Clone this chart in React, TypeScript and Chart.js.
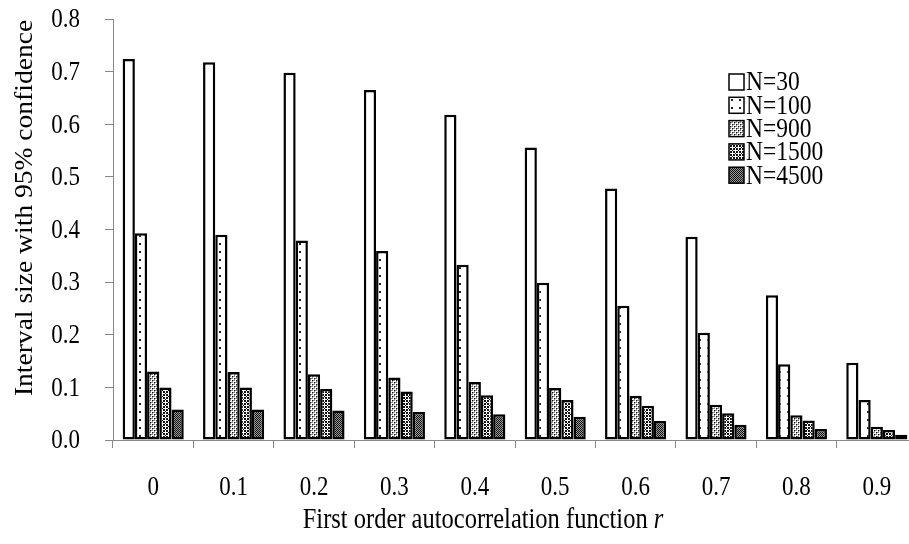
import React, { useEffect, useRef } from 'react';
import { Chart, registerables } from 'chart.js';

Chart.register(...registerables);

const categories = ['0', '0.1', '0.2', '0.3', '0.4', '0.5', '0.6', '0.7', '0.8', '0.9'];
const seriesLabels = ['N=30', 'N=100', 'N=900', 'N=1500', 'N=4500'];
const n30 = [0.724, 0.718, 0.698, 0.665, 0.618, 0.556, 0.478, 0.386, 0.275, 0.147];
const n100 = [0.393, 0.390, 0.379, 0.359, 0.333, 0.299, 0.255, 0.204, 0.144, 0.076];
const n900 = [0.130, 0.129, 0.125, 0.119, 0.110, 0.099, 0.084, 0.067, 0.047, 0.025];
const n1500 = [0.100, 0.100, 0.097, 0.092, 0.085, 0.076, 0.065, 0.051, 0.037, 0.019];
const n4500 = [0.058, 0.058, 0.056, 0.053, 0.049, 0.044, 0.036, 0.029, 0.021, 0.010];
const yTicks = [0, 0.1, 0.2, 0.3, 0.4, 0.5, 0.6, 0.7, 0.8];
const yTitle = 'Interval size with 95% confidence';
const xTitleMain = 'First order autocorrelation function ';
const xTitleVar = 'r';

const FONT = '"Liberation Serif", "Times New Roman", serif';
const STRETCH = 1.2;

function makePattern(size: number, draw: (c: CanvasRenderingContext2D) => void): CanvasPattern | string {
  const cv = document.createElement('canvas');
  cv.width = size;
  cv.height = size;
  const c = cv.getContext('2d');
  if (!c) return '#fff';
  c.fillStyle = '#fff';
  c.fillRect(0, 0, size, size);
  draw(c);
  const p = c.createPattern(cv, 'repeat');
  return p || '#888';
}

function px(c: CanvasRenderingContext2D, pts: number[][], color = '#000') {
  c.fillStyle = color;
  pts.forEach(([x, y]) => c.fillRect(x, y, 1, 1));
}

function stretchedText(ctx: CanvasRenderingContext2D, text: string, x: number, y: number, align: CanvasTextAlign) {
  ctx.save();
  ctx.translate(x, y);
  ctx.scale(1, STRETCH);
  ctx.textAlign = align;
  ctx.textBaseline = 'middle';
  ctx.fillText(text, 0, 0);
  ctx.restore();
}

export default function App() {
  const ref = useRef<HTMLCanvasElement | null>(null);

  useEffect(() => {
    const canvas = ref.current;
    if (!canvas) return;

    const fills = [
      '#ffffff',
      makePattern(8, (c) => { c.fillStyle = '#222'; c.fillRect(3, 3, 2, 2); }),
      makePattern(4, (c) => {
        px(c, [[0, 0], [2, 2]], '#111');
        px(c, [[1, 0], [0, 1], [2, 0], [0, 2], [3, 2], [2, 3]], '#8a8a8a');
      }),
      makePattern(6, (c) => {
        c.fillStyle = '#111';
        for (let y = 0; y < 6; y++) for (let x = 0; x < 6; x++) {
          const d1 = (x + y) % 6 === 0;
          const d2 = ((x - y) % 6 + 6) % 6 === 0;
          const d3 = (x + y) % 6 === 3 || ((x - y) % 6 + 6) % 6 === 3;
          if (d1 || d2 || d3) c.fillRect(x, y, 1, 1);
        }
        c.fillStyle = '#fff';
        c.fillRect(3, 0, 1, 1);
        c.fillRect(0, 3, 1, 1);
      }),
      makePattern(2, (c) => {
        px(c, [[0, 0], [1, 1]], '#111');
        px(c, [[1, 0], [0, 1]], '#9a9a9a');
      }),
    ];

    const seriesData = [n30, n100, n900, n1500, n4500];

    const overlay = {
      id: 'overlay',
      afterDraw(chart: any) {
        const ctx = chart.ctx as CanvasRenderingContext2D;
        ctx.save();
        ctx.fillStyle = '#000';

        // tick labels positioned by the library's scales
        const xs = chart.scales.x;
        const ys = chart.scales.y;
        ctx.font = `23px ${FONT}`;
        xs.ticks.forEach((t: any, i: number) => {
          const lbl = categories[t.value] ?? String(t.label);
          stretchedText(ctx, lbl, xs.getPixelForTick(i), 488, 'center');
        });
        ys.ticks.forEach((t: any, i: number) => {
          stretchedText(ctx, Number(t.value).toFixed(1), 80, ys.getPixelForTick(i) + 1, 'right');
        });

        // y title
        ctx.save();
        ctx.font = `25.5px ${FONT}`;
        ctx.translate(25, 208);
        ctx.rotate(-Math.PI / 2);
        ctx.scale(1.08, 1);
        ctx.textAlign = 'center';
        ctx.textBaseline = 'middle';
        ctx.fillText(yTitle, 0, 0);
        ctx.restore();

        // x title
        ctx.font = `24.5px ${FONT}`;
        const w1 = ctx.measureText(xTitleMain).width;
        ctx.font = `italic 24.5px ${FONT}`;
        const w2 = ctx.measureText(xTitleVar).width;
        const start = 483 - (w1 + w2) / 2;
        ctx.font = `24.5px ${FONT}`;
        stretchedText(ctx, xTitleMain, start, 520, 'left');
        ctx.font = `italic 24.5px ${FONT}`;
        stretchedText(ctx, xTitleVar, start + w1, 520, 'left');

        // legend
        chart.data.datasets.forEach((ds: any, i: number) => {
          const cy = 82 + i * 23.3;
          ctx.fillStyle = ds.backgroundColor;
          ctx.fillRect(729, cy - 8, 15, 16);
          ctx.strokeStyle = '#000';
          ctx.lineWidth = 1.5;
          ctx.strokeRect(729, cy - 8, 15, 16);
          ctx.fillStyle = '#000';
          ctx.font = `23.5px ${FONT}`;
          stretchedText(ctx, ds.label, 746, cy + 1, 'left');
        });
        ctx.restore();
      },
    };

    const chart = new Chart(canvas, {
      type: 'bar',
      data: {
        labels: categories,
        datasets: seriesLabels.map((label, i) => ({
          label,
          data: seriesData[i],
          backgroundColor: fills[i] as any,
          borderColor: '#000',
          borderWidth: 2.5,
          borderSkipped: false,
          categoryPercentage: 0.76,
          barPercentage: 1.0,
        })),
      },
      options: {
        responsive: false,
        maintainAspectRatio: false,
        animation: false,
        layout: { padding: { left: 0, right: 3, top: 19, bottom: 0 } },
        plugins: {
          legend: { display: false },
          tooltip: { enabled: false },
          title: { display: false },
        },
        scales: {
          x: {
            grid: {
              display: true,
              offset: true,
              drawOnChartArea: false,
              drawTicks: true,
              tickLength: 8,
              color: '#888',
              lineWidth: 1,
            },
            border: { display: true, color: '#888', width: 1 },
            ticks: {
              display: false,
              autoSkip: false,
              maxRotation: 0,
            },
            afterFit: (axis: any) => { axis.height = 104; },
          },
          y: {
            min: 0,
            max: 0.8,
            afterBuildTicks: (axis: any) => { axis.ticks = yTicks.map((v) => ({ value: v })); },
            grid: {
              display: true,
              drawOnChartArea: false,
              drawTicks: true,
              tickLength: 8,
              color: '#888',
              lineWidth: 1,
            },
            border: { display: true, color: '#888', width: 1 },
            ticks: {
              display: false,
            },
            afterFit: (axis: any) => { axis.width = 113; },
          },
        },
      },
      plugins: [overlay],
    });

    return () => chart.destroy();
  }, []);

  return (
    <div style={{ position: 'absolute', left: 0, top: 0, width: 909, height: 544, overflow: 'hidden', background: '#fff' }}>
      <canvas ref={ref} width={920} height={544} style={{ display: 'block' }} />
    </div>
  );
}
